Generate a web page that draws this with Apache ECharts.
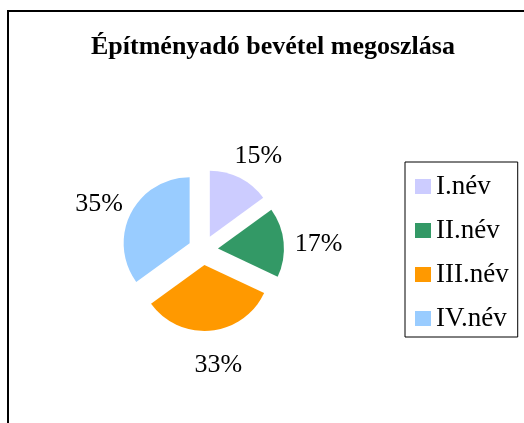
<!DOCTYPE html>
<html>
<head>
<meta charset="utf-8">
<script src="https://cdn.jsdelivr.net/npm/echarts@6/dist/echarts.min.js"></script>
<style>
	html, body { margin: 0; padding: 0; background: #fff; }
	#chart { width: 524px; height: 423px; }
</style>
</head>
<body>
<div id="chart"></div>
<script>
const categories = ['I.név', 'II.név', 'III.név', 'IV.név'];
const shares = [15, 17, 33, 35];
const colors = ['#CCCCFF', '#339966', '#FF9900', '#99CCFF'];

const chart = echarts.init(document.getElementById('chart'));

const font = 'Liberation Serif, Times New Roman, serif';

const option = {
	animation: false,
	backgroundColor: '#fff',
	title: {
		text: 'Építményadó bevétel megoszlása',
		left: 86,
		top: 29,
		textStyle: {
			fontFamily: font,
			fontWeight: 'bold',
			fontSize: 26,
			color: '#000'
		}
	},
	graphic: [
		{
			type: 'rect',
			shape: { x: 8, y: 11, width: 600, height: 500 },
			style: { fill: 'none', stroke: '#000', lineWidth: 2 },
			silent: true
		}
	],
	legend: {
		orient: 'vertical',
		left: 405,
		top: 162,
		data: categories,
		itemWidth: 16,
		itemHeight: 15,
		itemGap: 17,
		padding: [11, 9, 5, 10],
		borderColor: '#000',
		borderWidth: 1,
		icon: 'rect',
		selectedMode: false,
		textStyle: {
			fontFamily: font,
			fontSize: 27,
			color: '#000'
		}
	},
	series: [
		{
			type: 'pie',
			center: [203, 250],
			radius: 66,
			startAngle: 90,
			clockwise: true,
			selectedMode: 'multiple',
			selectedOffset: 15,
			avoidLabelOverlap: false,
			itemStyle: { borderWidth: 0 },
			emphasis: { scale: false },
			select: { itemStyle: { borderWidth: 0 } },
			label: {
				show: true,
				position: 'outside',
				formatter: '{c}%',
				fontFamily: font,
				fontSize: 26,
				color: '#000'
			},
			labelLine: { show: false, length: 30, length2: 0 },
			// centre each label on the end of its (hidden) leader line
			labelLayout: function (params) {
				const pts = params.labelLinePoints;
				if (!pts || !pts[1]) {
					return {};
				}
				return {
					x: pts[1][0] + 3,
					y: pts[1][1],
					dy: 5,
					align: 'center',
					verticalAlign: 'middle'
				};
			},
			data: categories.map((name, i) => ({
				name: name,
				value: shares[i],
				selected: true,
				itemStyle: { color: colors[i] }
			}))
		}
	]
};

chart.setOption(option);
</script>
</body>
</html>
